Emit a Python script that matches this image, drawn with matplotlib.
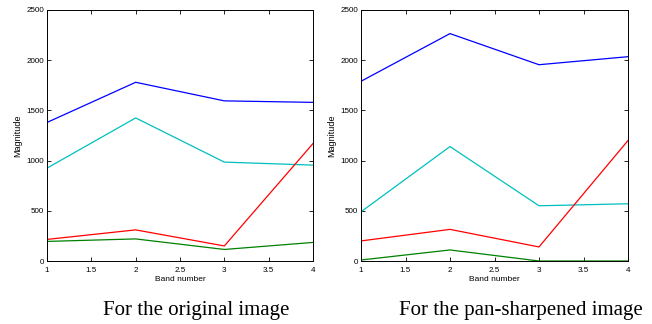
import numpy as np
import matplotlib
matplotlib.use("Agg")
import matplotlib.pyplot as plt

# dados
bands = [1, 2, 3, 4]

orig_blue = [1380, 1780, 1595, 1580]
orig_cyan = [925, 1425, 985, 955]
orig_red = [215, 310, 150, 1170]
orig_green = [195, 220, 115, 185]

pan_blue = [1790, 2265, 1955, 2035]
pan_cyan = [490, 1140, 550, 570]
pan_red = [200, 315, 140, 1200]
pan_green = [10, 110, 0, 0]

captions = ["For the original image", "For the pan-sharpened image"]
xticks = [1, 1.5, 2, 2.5, 3, 3.5, 4]
xticklabels = ["1", "1.5", "2", "2.5", "3", "3.5", "4"]
yticks = [0, 500, 1000, 1500, 2000, 2500]

colors = ["#0000ff", "#00bfbf", "#ff0000", "#008000"]

plt.rcParams['font.family'] = ['Liberation Sans', 'DejaVu Sans']

fig = plt.figure(figsize=(6.52, 3.24), dpi=100)
W, H = 652, 324

def make_axes(x0, x1, series):
    ax = fig.add_axes([x0 / W, 1 - 261 / H, (x1 - x0) / W, (261 - 10) / H])
    for s, c in zip(series, colors):
        ax.plot(bands, s, color=c, lw=0.9)
    ax.set_xlim(1, 4)
    ax.set_ylim(0, 2500)
    ax.set_xticks(xticks)
    ax.set_xticklabels(xticklabels)
    ax.set_yticks(yticks)
    ax.tick_params(direction='in', top=True, right=True, labelsize=5.8,
                   length=3, width=0.6)
    ax.tick_params(axis='x', pad=4)
    ax.tick_params(axis='y', pad=2)
    for sp in ax.spines.values():
        sp.set_linewidth(0.7)
    ax.set_xlabel("Band number", fontsize=6, labelpad=2)
    ax.set_ylabel("Magnitude", fontsize=6.5, labelpad=3)
    return ax

make_axes(47, 313, [orig_blue, orig_cyan, orig_red, orig_green])
make_axes(361, 628, [pan_blue, pan_cyan, pan_red, pan_green])

fig.text(196 / W, 1 - 310 / H, captions[0], family='Liberation Serif',
         fontsize=15, ha='center', va='center')
fig.text(521 / W, 1 - 310 / H, captions[1], family='Liberation Serif',
         fontsize=15, ha='center', va='center')

fig.savefig("out.png", dpi=100)
